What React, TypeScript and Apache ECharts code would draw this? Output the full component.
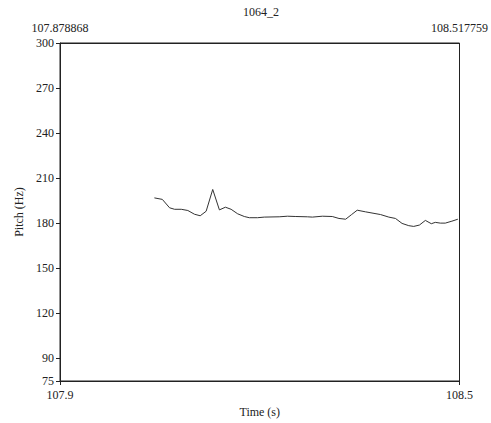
import React, { useEffect, useRef } from "react";
import * as echarts from "echarts";

const chartTitle = "1064_2";
const timeStart = 107.878868;
const timeEnd = 108.517759;
const yMin = 75;
const yMax = 300;
const yTicks = [75, 90, 120, 150, 180, 210, 240, 270, 300];

const times = [
  108.0298, 108.0425, 108.0541, 108.0621, 108.0728, 108.0833, 108.094, 108.1031,
  108.1126, 108.1231, 108.1338, 108.1434, 108.1525, 108.163, 108.1736, 108.1816,
  108.1948, 108.2055, 108.2294, 108.2426, 108.256, 108.2745, 108.2825, 108.2984,
  108.3143, 108.325, 108.3357, 108.3452, 108.3542, 108.3676, 108.3915, 108.4047,
  108.4154, 108.4259, 108.4366, 108.4445, 108.4536, 108.4632, 108.4727, 108.4791,
  108.4871, 108.495, 108.5056, 108.5151,
];
const pitch = [
  196.9, 195.9, 190.3, 189.3, 189.3, 188.5, 186.0, 185.0,
  188.0, 202.5, 188.9, 190.7, 189.3, 186.3, 184.5, 183.7,
  183.7, 184.1, 184.3, 184.7, 184.5, 184.3, 184.1, 184.7,
  184.5, 183.2, 182.7, 185.8, 188.7, 187.6, 185.8, 184.1,
  183.2, 179.9, 178.4, 177.9, 178.8, 181.9, 179.7, 180.6,
  180.1, 180.1, 181.4, 182.7,
];

const FONT = "'Liberation Serif', 'Times New Roman', serif";
const INK = "#222";

export default function App() {
  const ref = useRef<HTMLDivElement>(null);
  useEffect(() => {
    if (!ref.current) return;
    const chart = echarts.init(ref.current, null, { renderer: "svg" });
    const data = times.map((t, i) => [t, pitch[i]]);
    chart.setOption({
      animation: false,
      textStyle: { fontFamily: FONT, color: INK },
      title: {
        text: chartTitle,
        left: 261,
        textAlign: "center",
        top: 6,
        padding: 0,
        textStyle: { fontFamily: FONT, fontSize: 12, fontWeight: "normal", color: INK },
      },
      grid: {
        left: 60,
        right: 30,
        top: 43,
        bottom: 39,
        show: true,
        borderColor: INK,
        borderWidth: 1,
        backgroundColor: "transparent",
      },
      xAxis: [
        {
          type: "value",
          position: "bottom",
          min: timeStart,
          max: timeEnd,
          name: "Time (s)",
          nameLocation: "middle",
          nameGap: 25,
          nameTextStyle: { fontFamily: FONT, fontSize: 12, color: INK },
          axisLine: { show: true, lineStyle: { color: INK, width: 1 } },
          axisTick: { show: true, length: 4, customValues: [timeStart, timeEnd], lineStyle: { color: INK } },
          axisLabel: {
            customValues: [timeStart, timeEnd],
            formatter: (v: number) => v.toFixed(1),
            fontFamily: FONT,
            fontSize: 12,
            color: INK,
            margin: 8,
          },
          splitLine: { show: false },
        },
        {
          type: "value",
          position: "top",
          min: timeStart,
          max: timeEnd,
          axisLine: { show: true, lineStyle: { color: INK, width: 1 } },
          axisTick: { show: false },
          axisLabel: {
            customValues: [timeStart, timeEnd],
            formatter: (v: number) => v.toFixed(6),
            fontFamily: FONT,
            fontSize: 12,
            color: INK,
            margin: 9,
          },
          splitLine: { show: false },
        },
      ],
      yAxis: {
        type: "value",
        min: yMin,
        max: yMax,
        name: "Pitch (Hz)",
        nameLocation: "middle",
        nameGap: 33,
        nameTextStyle: { fontFamily: FONT, fontSize: 12, color: INK },
        axisLine: { show: true, lineStyle: { color: INK, width: 1 } },
        axisTick: { show: true, length: 4, customValues: yTicks, lineStyle: { color: INK } },
        axisLabel: {
          customValues: yTicks,
          fontFamily: FONT,
          fontSize: 12,
          color: INK,
          margin: 6,
        },
        splitLine: { show: false },
      },
      series: [
        {
          type: "line",
          xAxisIndex: 0,
          data,
          showSymbol: false,
          symbol: "none",
          lineStyle: { color: "#333", width: 1 },
        },
      ],
    });
    return () => chart.dispose();
  }, []);
  return (
    <div
      ref={ref}
      style={{ position: "fixed", left: 0, top: 0, width: 491, height: 423, background: "#fff" }}
    />
  );
}
